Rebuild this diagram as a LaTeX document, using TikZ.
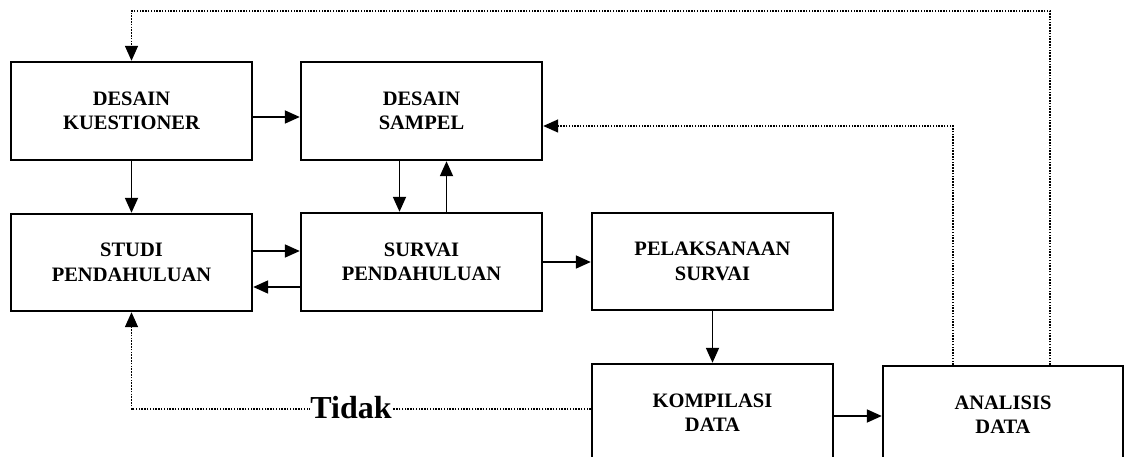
\documentclass[tikz,border=0pt]{standalone}
\usepackage{fontspec}
\setmainfont{Liberation Serif}
\usetikzlibrary{arrows.meta,calc}
\begin{document}
\begin{tikzpicture}[x=1pt,y=-1pt,
  box/.style={draw,line width=2.4pt,inner sep=0pt,align=center,
    font=\fontsize{20.5}{24.5}\selectfont\bfseries},
  flow/.style={line width=1.8pt,-{Triangle[length=15pt,width=13pt]}},
  back/.style={line width=1.5pt,dash pattern=on 1.5pt off 1.3pt,
    -{Triangle[length=15pt,width=13pt]}},
  lbl/.style={fill=white,inner sep=0pt,font=\fontsize{32}{36}\selectfont\bfseries}
  ]
\useasboundingbox (0,0) rectangle (1127,457);
\clip (0,0) rectangle (1127,457);
% boxes
\node[box,minimum width=241pt,minimum height=98pt] (kue) at (131.5,111) {DESAIN\\KUESTIONER};
\node[box,minimum width=241pt,minimum height=98pt] (sam) at (421.5,111) {DESAIN\\SAMPEL};
\node[box,minimum width=241pt,minimum height=97pt] (stu) at (131.5,262.5) {STUDI\\PENDAHULUAN};
\node[box,minimum width=241pt,minimum height=98pt] (sur) at (421.5,262) {SURVAI\\PENDAHULUAN};
\node[box,minimum width=241pt,minimum height=97pt] (pel) at (712.5,261.5) {PELAKSANAAN\\SURVAI};
\node[box,minimum width=241pt,minimum height=97pt] (kom) at (712.5,412.5) {KOMPILASI\\DATA};
\node[box,minimum width=240pt,minimum height=97pt] (ana) at (1003,414.5) {ANALISIS\\DATA};
\coordinate (topy) at (0,11);
% solid connectors
\draw[flow] ([yshift=-6pt]kue.east) coordinate (a1) -- (a1 -| sam.west);
\draw[flow] (kue.south) -- (stu.north);
\draw[flow] ([xshift=-22pt]sam.south) coordinate (a2) -- (a2 |- sur.north);
\draw[flow] ([xshift=25pt]sur.north) coordinate (a3) -- (a3 |- sam.south);
\draw[flow] ([yshift=11.5pt]stu.east) coordinate (a4) -- (a4 -| sur.west);
\draw[flow] ([yshift=-25pt]sur.west) coordinate (a5) -- (a5 -| stu.east);
\draw[flow] (sur.east) -- (sur.east -| pel.west);
\draw[flow] (pel.south) -- (kom.north);
\draw[flow] ([yshift=-3.5pt]kom.east) coordinate (a6) -- (a6 -| ana.west);
% dotted feedback
\draw[back] ([xshift=47pt]ana.north) |- (kue.north |- topy) -- (kue.north);
\draw[back] ([xshift=-50pt]ana.north) |- ([yshift=-15pt]sam.east);
\draw[back] ([yshift=3.5pt]kom.west) -| (stu.south);
\node[lbl] (tidak) at (351,407.5) {Tidak};
\end{tikzpicture}
\end{document}
